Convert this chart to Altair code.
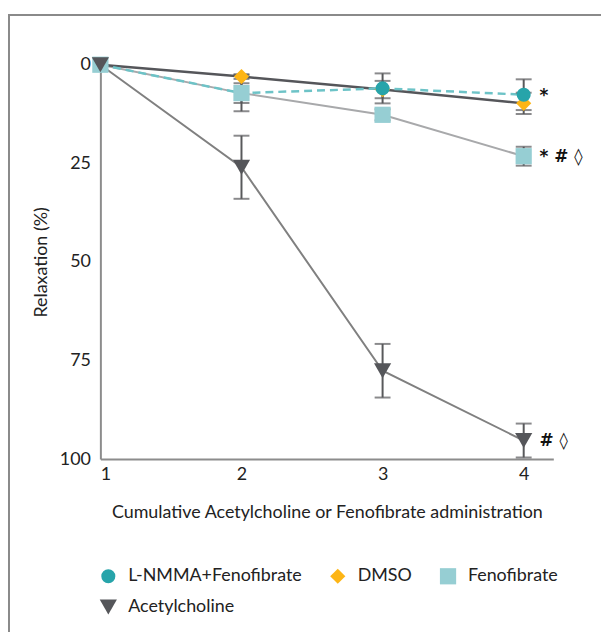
import altair as alt
import pandas as pd

# ---- data ----
doses = [1, 2, 3, 4]
series_names = ["L-NMMA+Fenofibrate", "DMSO", "Fenofibrate", "Acetylcholine"]
lnmma_mean = [0, 7.2, 6.0, 7.6]
lnmma_err = [0, 4.6, 3.8, 3.9]
dmso_mean = [0, 3.0, 6.3, 9.8]
dmso_err = [0, 0.6, 2.2, 2.7]
feno_mean = [0, 7.2, 12.7, 23.2]
feno_err = [0, 2.5, 1.4, 2.4]
ach_mean = [0, 26.0, 77.6, 95.3]
ach_err = [0, 8.0, 6.8, 4.3]

ann_x = [4, 4, 4]
ann_y = [7.6, 23.2, 95.3]
ann_text = ["*", "* # \u25CA", "# \u25CA"]

y_ticks = [0, 25, 50, 75, 100]
x_ticks = [1, 2, 3, 4]

FONT = "Lato"

means = [lnmma_mean, dmso_mean, feno_mean, ach_mean]
errs = [lnmma_err, dmso_err, feno_err, ach_err]
rows = []
for name, m, e in zip(series_names, means, errs):
    for x, mv, ev in zip(doses, m, e):
        rows.append({"series": name, "dose": x, "mean": mv, "err": ev,
                     "lo": mv - ev, "hi": mv + ev})
df = pd.DataFrame(rows)
ann = pd.DataFrame({"dose": ann_x, "mean": ann_y, "label": ann_text})

xscale = alt.Scale(domain=[1, 4.21], nice=False, zero=False)
yscale = alt.Scale(domain=[0, 100], reverse=True, nice=False)
X = alt.X("dose:Q", scale=xscale,
          axis=alt.Axis(values=x_ticks, format="d",
                        title="Cumulative Acetylcholine or Fenofibrate administration"))
Y = alt.Y("mean:Q", scale=yscale, axis=alt.Axis(values=y_ticks, format="d", title="Relaxation (%)"))

base = alt.Chart(df)

line_styles = {
    "Acetylcholine": dict(color="#808080", strokeWidth=2),
    "Fenofibrate": dict(color="#A8A9AB", strokeWidth=2),
    "DMSO": dict(color="#55565A", strokeWidth=2.5),
    "L-NMMA+Fenofibrate": dict(color="#6DC3C7", strokeWidth=2.5, strokeDash=[8, 5]),
}
layers = []
for name in ["Acetylcholine", "Fenofibrate", "DMSO", "L-NMMA+Fenofibrate"]:
    layers.append(
        base.transform_filter(alt.datum.series == name)
        .mark_line(**line_styles[name])
        .encode(x=X, y=Y)
    )

errdata = base.transform_filter(alt.datum.err > 0)
err_rule = errdata.mark_rule(color="#58595B", strokeWidth=2).encode(
    x="dose:Q", y=alt.Y("lo:Q", scale=yscale), y2="hi:Q")
cap_lo = errdata.mark_tick(color="#58595B", thickness=2, size=16, orient="horizontal").encode(
    x="dose:Q", y=alt.Y("lo:Q", scale=yscale))
cap_hi = errdata.mark_tick(color="#58595B", thickness=2, size=16, orient="horizontal").encode(
    x="dose:Q", y=alt.Y("hi:Q", scale=yscale))
layers += [err_rule, cap_lo, cap_hi]

color_range = ["#27A4AA", "#FDB515", "#96CED3", "#55565A"]
shape_range = ["circle", "diamond", "square", "triangle-down"]
size_range = [200, 300, 180, 240]
points = base.mark_point(filled=True, opacity=1, strokeWidth=0).encode(
    x=X, y=Y,
    color=alt.Color("series:N", scale=alt.Scale(domain=series_names, range=color_range),
                    legend=alt.Legend(title=None, orient="none", legendX=-1, legendY=506,
                                      direction="horizontal", columns=3, columnPadding=27,
                                      rowPadding=13, labelFontSize=18, labelFont=FONT,
                                      labelColor="#222222", symbolSize=200, labelOffset=11,
                                      labelLimit=400, symbolStrokeWidth=0, padding=0)),
    shape=alt.Shape("series:N", scale=alt.Scale(domain=series_names, range=shape_range)),
    size=alt.Size("series:N", scale=alt.Scale(domain=series_names, range=size_range), legend=None),
    order=alt.Order("order:Q"),
).transform_calculate(
    order="indexof(['DMSO','L-NMMA+Fenofibrate','Fenofibrate','Acetylcholine'], datum.series)"
)
layers.append(points)

text = alt.Chart(ann).mark_text(align="left", baseline="middle", dx=16, dy=1,
                                fontSize=17, font="DejaVu Sans", fontWeight="bold",
                                color="#111111").encode(
    x=alt.X("dose:Q", scale=xscale), y=alt.Y("mean:Q", scale=yscale), text="label:N")
layers.append(text)

# figure frame (top and left edges)
frame_left = alt.Chart(pd.DataFrame({"a": [0]})).mark_rule(color="#8A8A8A", strokeWidth=2).encode(
    x=alt.value(-92), y=alt.value(-50), y2=alt.value(600))
frame_top = alt.Chart(pd.DataFrame({"a": [0]})).mark_rule(color="#8A8A8A", strokeWidth=2).encode(
    x=alt.value(-93), x2=alt.value(520), y=alt.value(-50))
layers += [frame_left, frame_top]

chart = alt.layer(*layers).properties(
    width=456, height=397,
    autosize=alt.AutoSizeParams(type="none"),
    padding={"left": 93, "top": 55, "right": 48, "bottom": 172},
).configure_view(stroke=None).configure_axis(
    grid=False, ticks=False, domainColor="#8C8C8C", domainWidth=2,
    labelFont=FONT, labelFontSize=18, labelColor="#222222",
    titleFont=FONT, titleFontSize=18, titleFontWeight="normal", titleColor="#222222",
).configure_axisY(labelPadding=10, titlePadding=9).configure_axisX(
    labelPadding=7, titlePadding=20)

chart.save("out.html", embed_options={"renderer": "svg", "actions": False})
